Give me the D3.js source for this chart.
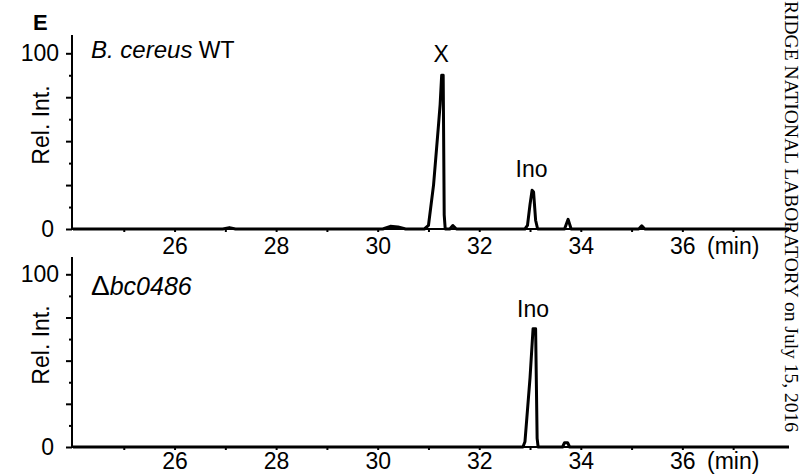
<!DOCTYPE html>
<html>
<head>
<meta charset="utf-8">
<script src="https://cdn.jsdelivr.net/npm/d3@7"></script>
<style>
  body { margin: 0; background: #fff; }
  svg { display: block; }
  text { font-family: "Liberation Sans", Arial, sans-serif; fill: #000; }
</style>
</head>
<body>
<svg width="801" height="474"></svg>
<script>
// retention time (min), relative intensity (%)
const wtTrace = [
  [24.0, 0], [26.95, 0], [27.08, 0.8], [27.2, 0],
  [30.1, 0], [30.25, 1.5], [30.4, 1.2], [30.55, 0],
  [30.92, 0], [31.0, 2], [31.1, 25], [31.2, 60], [31.23, 71], [31.26, 87.5],
  [31.29, 87.5], [31.31, 8], [31.33, 0],
  [31.42, 0], [31.48, 2], [31.55, 0],
  [32.9, 0], [32.95, 2], [33.0, 14], [33.04, 22], [33.07, 21], [33.11, 5], [33.15, 0],
  [33.68, 0], [33.75, 5.5], [33.81, 0],
  [35.14, 0], [35.2, 1.8], [35.26, 0],
  [38.1, 0]
];
const mutTrace = [
  [24.0, 0],
  [32.86, 0], [32.9, 3], [33.0, 40], [33.06, 68.5], [33.11, 68.5], [33.14, 5], [33.16, 0],
  [33.64, 0], [33.68, 2.5], [33.74, 2.5], [33.78, 0],
  [38.1, 0]
];

const xTicks = d3.range(25, 38);
const xLabelTicks = [26, 28, 30, 32, 34, 36];
const yMajorTicks = [0, 25, 50, 75, 100];
const yMinorTicks = [12.5, 37.5, 62.5, 87.5];
const yLabelTicks = [0, 100];

const panels = [
  { trace: wtTrace, y0: 229, y100: 53.3, top: 35, labelPad: 5.5,
    peaks: [{ t: 31.27, v: 87.5, name: "X", dy: 13 }, { t: 33.05, v: 22, name: "Ino", dy: 13 }] },
  { trace: mutTrace, y0: 447, y100: 274.3, top: 257, labelPad: 3,
    peaks: [{ t: 33.08, v: 68.5, name: "Ino", dy: 12 }] }
];

const svg = d3.select("svg");
const axisX = 72;
const x = d3.scaleLinear().domain([24, 38.1]).range([73, 789]);

panels.forEach((p, i) => {
  const y = d3.scaleLinear().domain([0, 100]).range([p.y0, p.y100]);
  const g = svg.append("g");

  // x axis
  const xa = g.append("g")
    .attr("transform", `translate(0,${p.y0})`)
    .call(d3.axisBottom(x).tickValues(xTicks).tickSize(3).tickSizeOuter(0).tickPadding(p.labelPad)
      .tickFormat(d => xLabelTicks.includes(d) ? d : ""));
  xa.select(".domain").remove();
  xa.selectAll("line").attr("stroke", "#000").attr("stroke-width", 2);
  xa.selectAll("text").attr("font-size", 23).attr("font-family", "Liberation Sans, Arial, sans-serif");
  g.append("line").attr("x1", axisX).attr("x2", 789).attr("y1", p.y0).attr("y2", p.y0)
    .attr("stroke", "#000").attr("stroke-width", 2);
  g.append("text").attr("x", 707).attr("y", p.y0 + 19 + p.labelPad).attr("font-size", 23).text("(min)");

  // y axis
  const ya = g.append("g").attr("transform", `translate(${axisX},0)`)
    .call(d3.axisLeft(y).tickValues(yMajorTicks).tickSize(6).tickSizeOuter(0).tickPadding(7)
      .tickFormat(d => yLabelTicks.includes(d) ? d : ""));
  ya.select(".domain").remove();
  ya.selectAll("line").attr("stroke", "#000").attr("stroke-width", 2);
  ya.selectAll("text").attr("font-size", 23).attr("font-family", "Liberation Sans, Arial, sans-serif")
    .attr("dx", d => d === 0 ? -5 : 0);
  const ym = g.append("g").attr("transform", `translate(${axisX},0)`)
    .call(d3.axisLeft(y).tickValues(yMinorTicks).tickSize(3).tickSizeOuter(0).tickFormat(""));
  ym.select(".domain").remove();
  ym.selectAll("line").attr("stroke", "#000").attr("stroke-width", 2);
  g.append("line").attr("x1", axisX).attr("x2", axisX).attr("y1", p.top).attr("y2", p.y0 + 1)
    .attr("stroke", "#000").attr("stroke-width", 2);

  const cy = (p.top + p.y0) / 2 - 7;
  g.append("text").attr("transform", `translate(49,${cy}) rotate(-90)`)
    .attr("text-anchor", "middle").attr("font-size", 23).text("Rel. Int.");

  // trace
  const line = d3.line().x(d => x(d[0])).y(d => y(d[1]));
  g.append("path").datum(p.trace).attr("d", line)
    .attr("fill", "none").attr("stroke", "#000").attr("stroke-width", 3)
    .attr("stroke-linejoin", "round");

  // peak labels
  g.selectAll(".peak").data(p.peaks).enter().append("text")
    .attr("x", d => x(d.t) - 1).attr("y", d => y(d.v) - d.dy)
    .attr("text-anchor", "middle").attr("font-size", 23).text(d => d.name);
});

svg.append("text").attr("x", 33).attr("y", 30).attr("font-size", 22).attr("font-weight", "bold").text("E");

const t1 = svg.append("text").attr("x", 91).attr("y", 57.5).attr("font-size", 23);
t1.append("tspan").attr("font-style", "italic").attr("font-size", 24).text("B. cereus");
t1.append("tspan").text(" WT");

const t2 = svg.append("text").attr("x", 91).attr("y", 295).attr("font-size", 25);
t2.append("tspan").attr("font-size", 28).text("Δ");
t2.append("tspan").attr("font-style", "italic").text("bc0486");

svg.append("text").attr("transform", "translate(785,1) rotate(90)")
  .style("font-family", "'Liberation Serif', 'Times New Roman', serif")
  .attr("font-size", 19.5)
  .text("RIDGE NATIONAL LABORATORY on July 15, 2016");
</script>
</body>
</html>
